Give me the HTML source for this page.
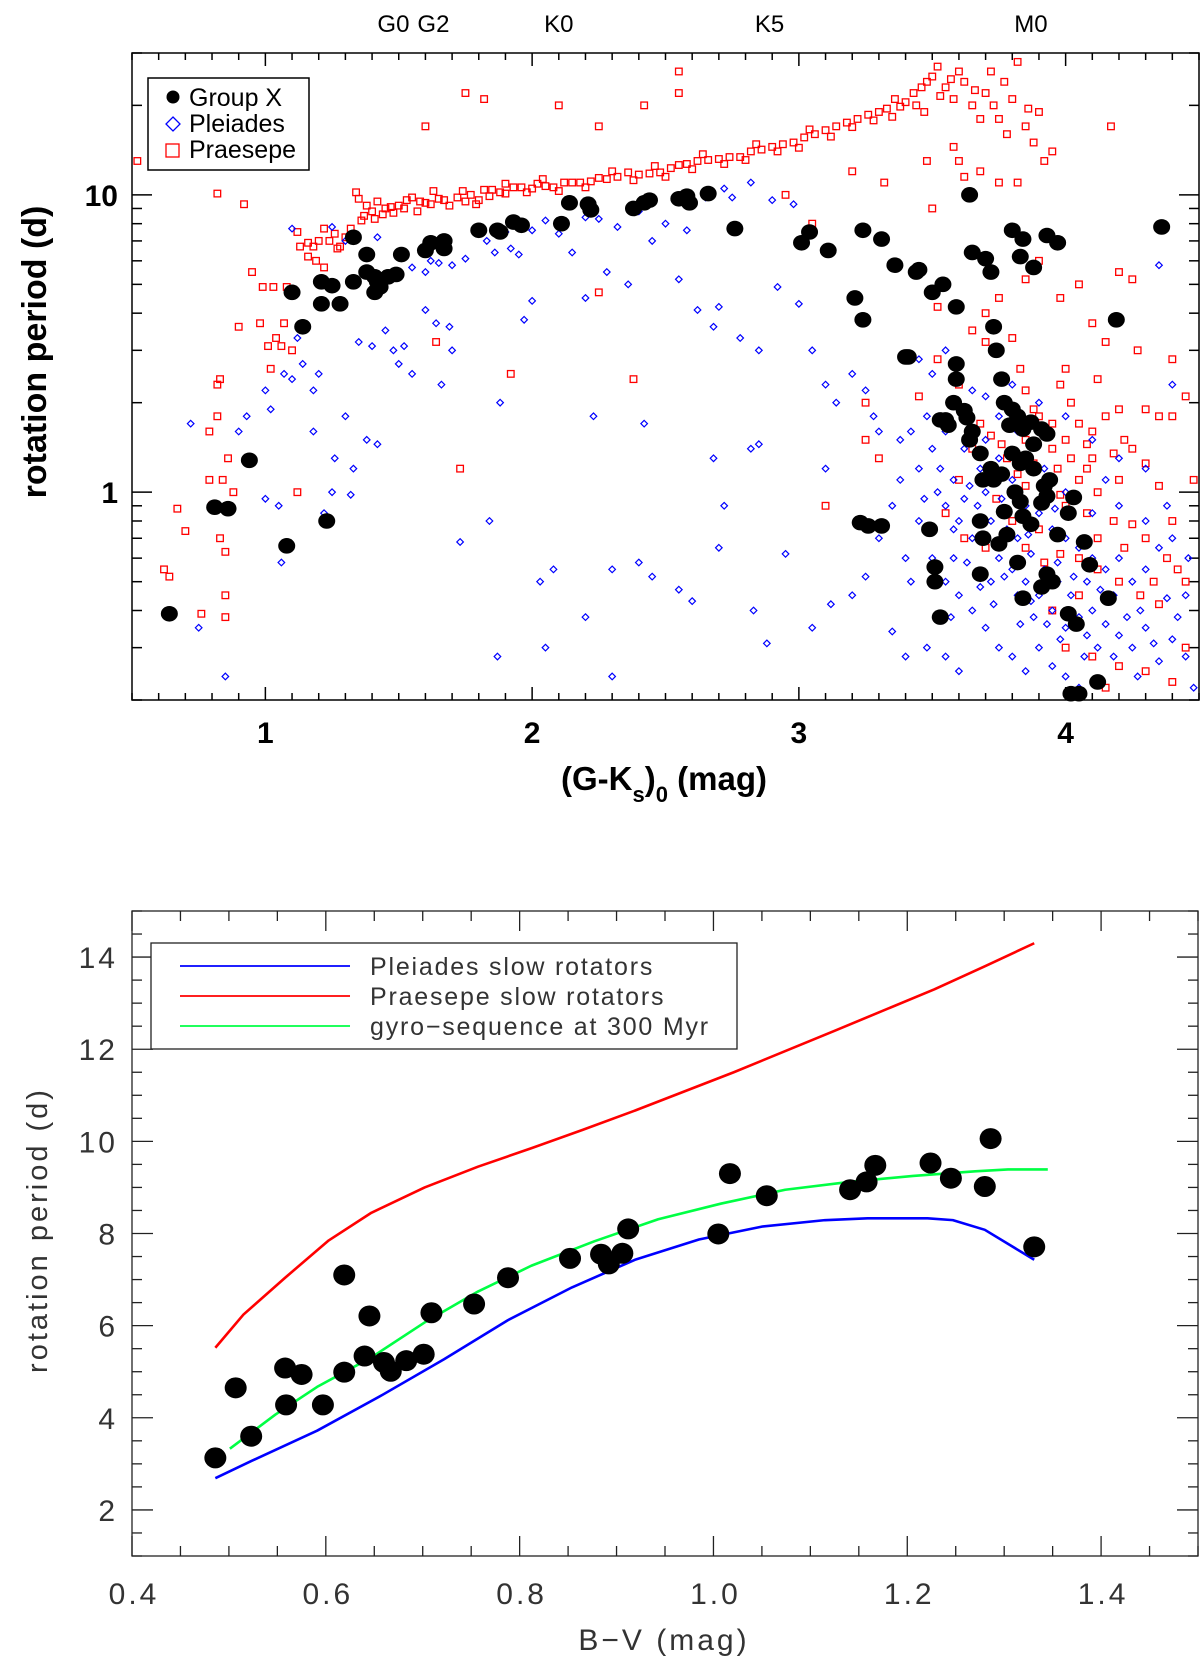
<!DOCTYPE html>
<html><head><meta charset="utf-8"><style>
body{margin:0;background:#fff;}
svg{display:block;}
.t1{font-family:"Liberation Sans",sans-serif;}
.t2{font-family:"Liberation Sans",sans-serif;fill:#333;letter-spacing:3px;}
.t3{font-family:"Liberation Sans",sans-serif;fill:#333;letter-spacing:1.8px;}
</style></head><body>
<svg id="fig" width="1200" height="1660" viewBox="0 0 1200 1660" xmlns="http://www.w3.org/2000/svg">
<g id="top"></g>
<g id="bot"></g>
</svg>
<script>
// ---------- TOP CHART DATA ----------
const spectralLabels=["G0","G2","K0","K5","M0"];
const spectralPos=[1.48,1.63,2.10,2.89,3.87];
const topXTicks=[1,2,3,4];
const topYTicks=[1,10];
const topYTickLabels=["1","10"];
const groupX=[[0.64,0.39],[0.81,0.89],[0.86,0.88],[0.94,1.28],[1.08,0.66],[1.10,4.7],[1.14,3.6],[1.21,5.1],[1.21,4.3],[1.23,0.80],[1.25,4.95],[1.28,4.3],[1.33,5.1],[1.33,7.2],[1.38,5.5],[1.38,6.3],[1.41,5.3],[1.41,4.7],[1.42,5.1],[1.43,4.9],[1.46,5.3],[1.49,5.4],[1.51,6.3],[1.60,6.5],[1.62,6.9],[1.67,7.0],[1.67,6.6],[1.80,7.6],[1.87,7.6],[1.88,7.5],[1.93,8.1],[1.96,7.9],[2.11,8.0],[2.14,9.4],[2.21,9.3],[2.22,8.9],[2.38,9.0],[2.42,9.4],[2.44,9.6],[2.55,9.7],[2.58,9.9],[2.59,9.4],[2.66,10.1],[2.76,7.7],[3.01,6.9],[3.04,7.5],[3.11,6.5],[3.24,7.6],[3.31,7.1],[3.21,4.5],[3.24,3.8],[3.36,5.8],[3.45,5.6],[3.44,5.5],[3.50,4.7],[3.54,5.0],[3.59,4.2],[3.40,2.85],[3.41,2.85],[3.64,10.0],[3.65,6.4],[3.70,6.1],[3.72,5.5],[3.80,7.6],[3.83,6.2],[3.84,7.1],[3.88,5.7],[3.93,7.3],[3.97,6.9],[4.36,7.8],[4.19,3.8],[3.73,3.6],[3.74,3.0],[3.59,2.7],[3.59,2.4],[3.58,2.0],[3.56,1.68],[3.62,1.88],[3.63,1.78],[3.53,1.75],[3.55,1.75],[3.76,2.4],[3.77,2.0],[3.80,1.9],[3.82,1.8],[3.79,1.68],[3.84,1.63],[3.87,1.72],[3.88,1.45],[3.91,1.63],[3.93,1.57],[3.49,0.75],[3.51,0.56],[3.51,0.50],[3.53,0.38],[3.26,0.77],[3.23,0.79],[3.31,0.77],[3.65,1.6],[3.64,1.5],[3.68,1.35],[3.69,1.1],[3.68,0.80],[3.69,0.70],[3.68,0.53],[3.72,1.2],[3.73,1.1],[3.76,1.15],[3.80,1.35],[3.77,0.86],[3.75,0.67],[3.78,0.72],[3.81,1.0],[3.83,1.25],[3.85,1.3],[3.88,1.2],[3.83,0.93],[3.84,0.83],[3.87,0.78],[3.92,1.05],[3.93,0.97],[3.91,0.92],[3.94,1.1],[3.82,0.58],[3.84,0.44],[3.91,0.48],[3.93,0.53],[3.95,0.50],[3.97,0.72],[4.01,0.85],[4.03,0.96],[4.01,0.39],[4.04,0.36],[4.07,0.68],[4.09,0.57],[4.12,0.23],[4.02,0.21],[4.05,0.21],[4.16,0.44]];
const praesepe=[[0.52,13],[0.62,0.55],[0.64,0.52],[0.67,0.88],[0.70,0.74],[0.82,10.1],[0.83,2.4],[0.82,2.3],[0.82,1.8],[0.79,1.6],[0.79,1.1],[0.80,0.9],[0.83,0.70],[0.85,0.63],[0.85,0.45],[0.85,0.38],[0.76,0.39],[0.84,1.1],[0.86,1.3],[0.88,1.0],[0.90,3.6],[0.92,9.3],[0.95,5.5],[0.99,4.9],[0.98,3.7],[1.01,3.1],[1.04,3.3],[1.03,4.9],[1.06,3.1],[1.02,2.6],[1.10,3.0],[1.08,4.9],[1.07,3.7],[1.12,7.5],[1.13,6.7],[1.16,6.2],[1.16,6.9],[1.18,6.7],[1.2,7.0],[1.22,7.7],[1.22,5.7],[1.24,7.0],[1.27,6.6],[1.28,6.7],[1.3,7.2],[1.32,7.7],[1.34,10.2],[1.35,9.7],[1.37,8.5],[1.38,9.2],[1.4,8.8],[1.42,9.5],[1.44,8.6],[1.45,9.0],[1.47,9.1],[1.5,9.2],[1.52,9.0],[1.55,9.8],[1.58,9.5],[1.6,9.4],[1.62,9.3],[1.65,9.7],[1.67,9.6],[1.72,9.8],[1.75,9.5],[1.77,10.0],[1.8,9.6],[1.82,10.4],[1.85,10.4],[1.88,10.2],[1.9,10.1],[1.93,10.6],[1.96,10.6],[2.0,10.5],[2.02,10.9],[2.05,10.7],[2.08,10.6],[2.12,11.0],[2.15,11.0],[2.18,11.0],[2.22,11.1],[2.25,11.4],[2.28,11.3],[2.32,11.5],[2.36,11.9],[2.4,11.7],[2.44,11.8],[2.48,11.9],[2.52,12.3],[2.55,12.6],[2.58,12.7],[2.62,13.0],[2.66,13.1],[2.7,13.2],[2.74,13.4],[2.78,13.4],[2.82,14.0],[2.86,14.2],[2.9,14.5],[2.94,14.8],[2.98,15.0],[3.02,15.6],[3.06,16.0],[3.1,16.5],[3.14,17.0],[3.18,17.5],[3.22,18.0],[3.26,18.6],[3.3,19.0],[3.33,19.5],[3.36,21],[3.40,20.5],[3.43,22],[3.46,23],[3.48,24],[3.5,25],[3.52,27],[3.55,23],[3.58,21],[3.6,26],[3.62,24],[3.65,20],[3.68,18],[3.70,22],[3.72,26],[3.75,18],[3.78,16],[3.80,21],[3.82,28],[3.85,17],[3.88,15],[3.9,19],[3.92,13],[3.95,14],[4.17,17],[3.6,13],[3.58,14.5],[3.62,11.5],[3.68,12],[3.75,11],[3.82,11],[3.5,9.0],[3.48,13],[3.32,11],[1.75,22],[1.82,21],[1.6,17],[2.25,17],[2.55,26],[2.55,22],[2.42,20],[2.1,20],[3.05,8.0],[3.2,12],[2.95,10],[1.92,2.5],[2.38,2.4],[2.25,4.7],[1.64,3.2],[1.73,1.2],[1.12,1.0],[3.25,2.0],[3.52,4.2],[3.6,2.3],[3.65,3.5],[3.7,3.2],[3.7,4.0],[3.75,4.5],[3.8,3.3],[3.85,5.2],[3.9,6.0],[3.98,4.5],[4.05,5.0],[4.1,3.7],[4.2,5.5],[4.25,5.2],[4.15,3.2],[3.78,2.0],[3.85,2.2],[3.9,1.8],[3.95,1.7],[3.98,2.3],[4.02,2.0],[4.05,1.7],[4.1,1.6],[4.15,1.8],[4.2,1.9],[4.22,1.5],[4.3,1.9],[4.35,1.8],[4.4,1.8],[4.45,2.1],[4.48,1.1],[4.35,1.05],[4.3,1.25],[4.25,1.4],[4.1,1.3],[4.05,1.1],[3.95,1.4],[3.88,1.25],[3.85,1.5],[3.82,1.15],[3.78,1.3],[3.72,1.55],[3.68,1.7],[3.65,1.4],[3.6,1.1],[3.55,0.85],[3.62,0.7],[3.7,0.65],[3.8,0.8],[3.9,0.75],[4.0,0.9],[4.08,0.85],[4.12,1.0],[4.18,0.8],[4.25,0.78],[4.3,0.7],[4.38,0.6],[4.42,0.55],[4.45,0.5],[4.35,0.42],[4.28,0.45],[4.2,0.5],[4.12,0.55],[4.05,0.6],[3.98,0.62],[3.92,0.58],[3.85,0.65],[4.0,0.3],[4.1,0.28],[4.2,0.26],[4.3,0.25],[4.4,0.23],[4.15,0.22],[3.95,0.4],[4.05,0.45],[3.85,1.05],[3.92,1.02],[3.98,0.98],[4.08,1.2],[4.2,1.1],[4.4,0.8],[4.45,0.3],[3.1,0.9],[3.25,1.5],[3.3,1.3],[3.52,2.8],[3.45,2.1],[3.88,1.9],[3.93,1.6],[4.0,1.5],[4.08,1.45],[4.18,1.35],[3.97,1.2],[4.02,1.3],[4.12,0.7],[4.22,0.65],[4.33,0.5],[3.74,0.95],[3.76,1.45],[3.83,2.6],[4.0,2.6],[4.12,2.4],[4.27,3.0],[4.4,2.8],
[1.19,6.0],[1.26,7.4],[1.36,8.2],[1.41,8.3],[1.48,8.7],[1.53,9.6],[1.57,8.8],[1.63,10.3],[1.69,9.2],[1.74,10.3],[1.79,9.3],[1.84,9.9],[1.9,10.9],[1.98,10.2],[2.04,11.3],[2.1,10.3],[2.2,10.6],[2.3,12.0],[2.38,11.2],[2.46,12.5],[2.5,11.5],[2.6,12.2],[2.64,13.7],[2.72,12.7],[2.8,13.1],[2.84,14.8],[2.92,14.0],[3.0,14.4],[3.04,16.6],[3.12,15.7],[3.2,16.9],[3.28,17.8],[3.35,18.3],[3.38,19.8],[3.44,20.0],[3.47,19.0],[3.53,21.5],[3.57,24.5],[3.66,22.5],[3.73,20.0],[3.77,24.0],[3.86,19.5]];
const pleiades=[[0.72,1.7],[0.75,0.35],[0.85,0.24],[0.9,1.6],[0.93,1.8],[1.0,0.95],[1.05,0.9],[1.06,0.58],[1.0,2.2],[1.02,1.9],[1.07,2.5],[1.1,2.4],[1.12,3.3],[1.14,2.7],[1.18,2.2],[1.2,2.5],[1.18,1.6],[1.22,0.85],[1.25,1.0],[1.26,1.3],[1.3,1.8],[1.32,0.98],[1.33,1.2],[1.35,3.2],[1.38,1.5],[1.4,3.1],[1.42,1.45],[1.45,3.5],[1.48,3.0],[1.5,2.7],[1.52,3.1],[1.55,2.5],[1.6,4.1],[1.64,3.7],[1.66,2.3],[1.69,3.6],[1.7,3.0],[1.1,7.7],[1.25,7.8],[1.3,7.0],[1.42,7.2],[1.45,5.2],[1.5,5.3],[1.55,5.7],[1.6,5.5],[1.62,6.0],[1.65,5.9],[1.7,5.8],[1.75,6.1],[1.8,7.7],[1.83,7.0],[1.86,6.4],[1.9,7.5],[1.92,6.6],[1.95,6.3],[2.0,7.6],[2.05,8.2],[2.1,7.4],[2.15,6.4],[2.2,8.4],[2.25,8.3],[2.32,7.8],[2.4,8.8],[2.45,7.0],[2.5,8.0],[2.58,7.6],[2.65,9.8],[2.72,10.5],[2.75,9.8],[2.82,11.0],[2.9,9.6],[2.98,9.3],[2.0,4.4],[1.97,3.8],[2.2,4.5],[2.28,5.5],[2.36,5.0],[2.55,5.2],[2.62,4.1],[2.68,3.6],[2.7,4.2],[2.78,3.3],[2.85,3.0],[2.92,4.9],[3.0,4.3],[3.05,3.0],[3.1,2.3],[3.14,2.0],[3.2,2.5],[3.25,2.2],[3.28,1.8],[3.3,1.6],[3.38,1.5],[1.73,0.68],[1.84,0.80],[2.03,0.50],[2.08,0.55],[2.2,0.38],[2.3,0.55],[2.4,0.58],[2.45,0.52],[2.55,0.47],[2.6,0.43],[2.7,0.65],[2.83,0.40],[2.88,0.31],[2.95,0.62],[3.05,0.35],[3.12,0.42],[3.2,0.45],[3.25,0.52],[3.35,0.34],[3.4,0.28],[3.48,0.3],[1.87,0.28],[2.05,0.3],[2.3,0.24],[1.88,2.0],[2.23,1.8],[2.42,1.7],[2.82,1.4],[2.85,1.45],[2.68,1.3],[2.72,0.9],[3.1,1.2],[3.45,1.2],[3.5,1.4],[3.52,1.0],[3.55,0.9],[3.58,1.1],[3.6,0.8],[3.62,0.95],[3.65,0.7],[3.67,0.9],[3.7,1.0],[3.72,0.8],[3.75,0.6],[3.78,0.75],[3.8,0.55],[3.82,0.7],[3.85,0.5],[3.87,0.62],[3.9,0.45],[3.92,0.55],[3.95,0.4],[3.97,0.5],[4.0,0.35],[4.02,0.45],[4.05,0.38],[4.08,0.33],[4.1,0.4],[4.12,0.3],[4.15,0.36],[4.18,0.28],[4.2,0.33],[4.25,0.3],[4.3,0.35],[4.35,0.27],[4.4,0.32],[4.45,0.28],[4.48,0.22],[3.5,0.6],[3.55,0.5],[3.6,0.45],[3.65,0.4],[3.7,0.35],[3.75,0.3],[3.8,0.28],[3.85,0.25],[3.9,0.3],[3.95,0.26],[4.0,0.24],[4.05,0.22],[3.55,0.28],[3.6,0.25],[3.4,0.6],[3.45,0.8],[3.35,0.9],[3.3,0.7],[3.38,1.1],[3.42,1.6],[3.48,1.8],[3.55,1.6],[3.6,1.9],[3.65,2.2],[3.7,1.5],[3.75,1.3],[3.8,1.1],[3.85,0.9],[3.9,0.85],[3.95,0.75],[4.0,0.7],[4.05,0.65],[4.1,0.6],[4.15,0.55],[4.2,0.6],[4.25,0.5],[4.3,0.55],[4.35,0.65],[4.4,0.7],[4.45,0.45],[4.3,0.8],[4.38,0.9],[4.2,0.9],[4.1,0.85],[4.0,1.0],[3.92,1.2],[3.82,1.6],[3.75,1.8],[3.68,1.2],[3.62,1.4],[3.58,0.6],[3.72,0.5],[3.82,0.45],[3.88,0.38],[3.98,0.32],[4.08,0.5],[4.18,0.45],[4.28,0.4],[4.42,0.38],[4.46,0.6],[4.4,2.3],[4.35,5.8],[3.55,3.0],[3.5,2.5],[3.45,2.8],[3.7,2.1],[3.8,2.3],[3.9,2.0],[4.0,1.8],[4.1,1.5],[4.2,1.3],[4.3,1.2],[4.15,1.1],[3.63,0.58],[3.68,0.48],[3.73,0.42],[3.77,0.52],[3.83,0.36],[3.87,0.43],[3.93,0.36],[3.97,0.58],[4.03,0.52],[4.07,0.28],[4.13,0.47],[4.23,0.38],[4.27,0.24],[4.33,0.31],[4.38,0.44],[3.76,0.95],[3.86,0.72],[3.96,0.88],[3.58,0.75],[3.64,1.05],[3.53,1.2],[3.47,0.95],[3.42,0.5],[3.57,0.38]];

// ---------- BOTTOM CHART DATA ----------
const botXTicks=[0.4,0.6,0.8,1.0,1.2,1.4];
const botXTickLabels=["0.4","0.6","0.8","1.0","1.2","1.4"];
const botYTicks=[2,4,6,8,10,12,14];
const bvGroupX=[0.486,0.507,0.523,0.558,0.559,0.575,0.597,0.619,0.619,0.64,0.645,0.66,0.667,0.683,0.701,0.709,0.753,0.788,0.852,0.884,0.892,0.906,0.912,1.005,1.017,1.055,1.141,1.158,1.167,1.224,1.245,1.28,1.286,1.331];
const periodGroupX=[3.13,4.65,3.6,5.08,4.28,4.94,4.28,7.1,4.99,5.34,6.21,5.2,5.01,5.24,5.38,6.28,6.47,7.04,7.46,7.55,7.34,7.57,8.1,7.99,9.3,8.82,8.95,9.12,9.48,9.53,9.2,9.02,10.06,7.71];
const pleiadesBV=[0.486,0.523,0.591,0.657,0.722,0.788,0.854,0.919,0.985,1.05,1.115,1.159,1.221,1.247,1.28,1.331];
const pleiadesP=[2.69,3.06,3.72,4.48,5.27,6.12,6.83,7.43,7.87,8.15,8.29,8.33,8.33,8.29,8.08,7.43];
const praesepeBV=[0.486,0.515,0.558,0.603,0.647,0.702,0.757,0.812,0.865,0.918,1.021,1.125,1.228,1.28,1.331];
const praesepeP=[5.52,6.24,7.04,7.85,8.45,9.0,9.45,9.85,10.25,10.66,11.5,12.4,13.3,13.8,14.3];
const gyroBV=[0.501,0.548,0.591,0.647,0.702,0.757,0.812,0.877,0.943,1.008,1.074,1.14,1.206,1.27,1.304,1.345];
const gyroP=[3.33,4.07,4.67,5.31,6.07,6.74,7.3,7.83,8.31,8.65,8.95,9.12,9.25,9.35,9.39,9.39];

const NS="http://www.w3.org/2000/svg";
function mk(parent,tag,attrs,txt){const e=document.createElementNS(NS,tag);for(const k in attrs)e.setAttribute(k,attrs[k]);if(txt!==undefined)e.textContent=txt;parent.appendChild(e);return e;}

// ===== TOP =====
const T=document.getElementById('top');
const L=132,R=1199,TT=53,TB=700;
const tx=v=>L+(v-0.5)/(4.0)*(R-L);
const ty=p=>TB-(Math.log10(p)-Math.log10(0.2))/(Math.log10(30)-Math.log10(0.2))*(TB-TT);
for(let v=0.5;v<=4.501;v+=0.1){const x=tx(v);const maj=Math.abs(v-Math.round(v))<0.01;const len=maj?13:7;
 mk(T,'line',{x1:x,y1:TB,x2:x,y2:TB-len,stroke:'#000','stroke-width':1.5});
 mk(T,'line',{x1:x,y1:TT,x2:x,y2:TT+len,stroke:'#000','stroke-width':1.5});}
[0.2,0.3,0.4,0.5,0.6,0.7,0.8,0.9,1,2,3,4,5,6,7,8,9,10,20,30].forEach(p=>{const y=ty(p);const maj=(p===1||p===10);const len=maj?20:10;
 mk(T,'line',{x1:L,y1:y,x2:L+len,y2:y,stroke:'#000','stroke-width':1.5});
 mk(T,'line',{x1:R,y1:y,x2:R-len,y2:y,stroke:'#000','stroke-width':1.5});});
topXTicks.forEach(v=>{const t=mk(T,'text',{x:tx(v),y:743,'text-anchor':'middle','font-size':30,'font-weight':'bold',class:'t1'},String(v));
 
 });
topYTicks.forEach((p,i)=>{const t=mk(T,'text',{x:118,y:ty(p)+11,'text-anchor':'end','font-size':30,'font-weight':'bold',class:'t1'},topYTickLabels[i]);
 
 });
spectralLabels.forEach((s,i)=>{const t=mk(T,'text',{x:tx(spectralPos[i]),y:32,'text-anchor':'middle','font-size':24,class:'t1'},s);
 
 });
const ytl=mk(T,'text',{x:0,y:0,transform:'translate(46,352) rotate(-90)','text-anchor':'middle','font-size':34,'font-weight':'bold',class:'t1'},'rotation period (d)');


const xtl=mk(T,'text',{x:664,y:790,'text-anchor':'middle','font-size':33,'font-weight':'bold',class:'t1'});


xtl.innerHTML='(G-K<tspan font-size="22" dy="12">s</tspan><tspan dy="-12">)</tspan><tspan font-size="22" dy="12">0</tspan><tspan dy="-12"> (mag)</tspan>';
const pg=mk(T,'g',{});


praesepe.forEach(d=>{const r=mk(pg,'rect',{x:tx(d[0])-3.3,y:ty(d[1])-3.3,width:6.6,height:6.6,fill:'none',stroke:'#f00','stroke-width':1.3});
 
 });
const plg=mk(T,'g',{});


pleiades.forEach(d=>{const x=tx(d[0]),y=ty(d[1]);const p=mk(plg,'polygon',{points:`${x},${y-3.3} ${x+3.3},${y} ${x},${y+3.3} ${x-3.3},${y}`,fill:'none',stroke:'#00f','stroke-width':1.2});
 
 });
const gg=mk(T,'g',{});


groupX.forEach(d=>{const c=mk(gg,'ellipse',{cx:tx(d[0]),cy:ty(d[1]),rx:8.5,ry:7.8,fill:'#000'});
 
 });
mk(T,'rect',{x:L,y:TT,width:R-L,height:TB-TT,fill:'none',stroke:'#000','stroke-width':1.5});
const lg=mk(T,'g',{});


mk(lg,'rect',{x:148,y:78,width:161,height:92,fill:'#fff',stroke:'#000','stroke-width':1.5});
mk(lg,'circle',{cx:173,cy:97,r:6.5,fill:'#000'});
mk(lg,'polygon',{points:'173,117 180,124 173,131 166,124',fill:'none',stroke:'#00f','stroke-width':1.3});
mk(lg,'rect',{x:166,y:144,width:13,height:13,fill:'none',stroke:'#f00','stroke-width':1.3});
[['Group X',106],['Pleiades',132],['Praesepe',158]].forEach(a=>{const t=mk(lg,'text',{x:189,y:a[1],'font-size':25,class:'t1'},a[0]);
 
 });

// ===== BOTTOM =====
const B=document.getElementById('bot');
const BL=132,BR=1198,BT=911,BB=1556;
const bx=v=>BL+(v-0.4)/1.1*(BR-BL);
const by=p=>BB-(p-1)/14*(BB-BT);
for(let v=0.4;v<=1.501;v+=0.05){const x=bx(v);const maj=Math.abs(v*5-Math.round(v*5))<0.01;const len=maj?20:10;
 mk(B,'line',{x1:x,y1:BB,x2:x,y2:BB-len,stroke:'#222','stroke-width':1.3});
 mk(B,'line',{x1:x,y1:BT,x2:x,y2:BT+len,stroke:'#222','stroke-width':1.3});}
for(let p=1;p<=15.001;p+=0.5){const y=by(p);const maj=Math.abs(p/2-Math.round(p/2))<0.01;const len=maj?21:10;
 mk(B,'line',{x1:BL,y1:y,x2:BL+len,y2:y,stroke:'#222','stroke-width':1.3});
 mk(B,'line',{x1:BR,y1:y,x2:BR-len,y2:y,stroke:'#222','stroke-width':1.3});}
botXTicks.forEach((v,i)=>{const t=mk(B,'text',{x:bx(v)+2,y:1604,'text-anchor':'middle','font-size':30,class:'t2'},botXTickLabels[i]);
 
 });
botYTicks.forEach(v=>{const t=mk(B,'text',{x:118,y:by(v)+11,'text-anchor':'end','font-size':30,class:'t2'},String(v));
 
 });
const byt=mk(B,'text',{x:0,y:0,transform:'translate(47,1230) rotate(-90)','text-anchor':'middle','font-size':29,class:'t2'},'rotation period (d)');


const bxt=mk(B,'text',{x:664,y:1650,'text-anchor':'middle','font-size':30,class:'t2'},'B\u2212V (mag)');


function line(xs,ys,col,name){const pts=xs.map((v,i)=>bx(v)+','+by(ys[i])).join(' ');const e=mk(B,'polyline',{points:pts,fill:'none',stroke:col,'stroke-width':2.6,'stroke-linejoin':'round'});
 
 }
line(pleiadesBV,pleiadesP,'#0000ff','pleiades-slow-rotators-line');
line(praesepeBV,praesepeP,'#ff0000','praesepe-slow-rotators-line');
line(gyroBV,gyroP,'#00ff44','gyro-sequence-line');
bvGroupX.forEach((v,i)=>{const c=mk(B,'ellipse',{cx:bx(v),cy:by(periodGroupX[i]),rx:11,ry:10.5,fill:'#000'});
 
 });
mk(B,'rect',{x:BL,y:BT,width:BR-BL,height:BB-BT,fill:'none',stroke:'#222','stroke-width':1.3});
const bl=mk(B,'g',{});


mk(bl,'rect',{x:151,y:943,width:586,height:106,fill:'#fff',stroke:'#222','stroke-width':1.3});
[['Pleiades slow rotators','#0000ff',966],['Praesepe slow rotators','#ff0000',996],['gyro\u2212sequence at 300 Myr','#00ff44',1026]].forEach(a=>{
 mk(bl,'line',{x1:180,y1:a[2],x2:350,y2:a[2],stroke:a[1],'stroke-width':1.8});
 const t=mk(bl,'text',{x:370,y:a[2]+9,'font-size':25,class:'t3'},a[0]);
 
 });
</script>
</body></html>
